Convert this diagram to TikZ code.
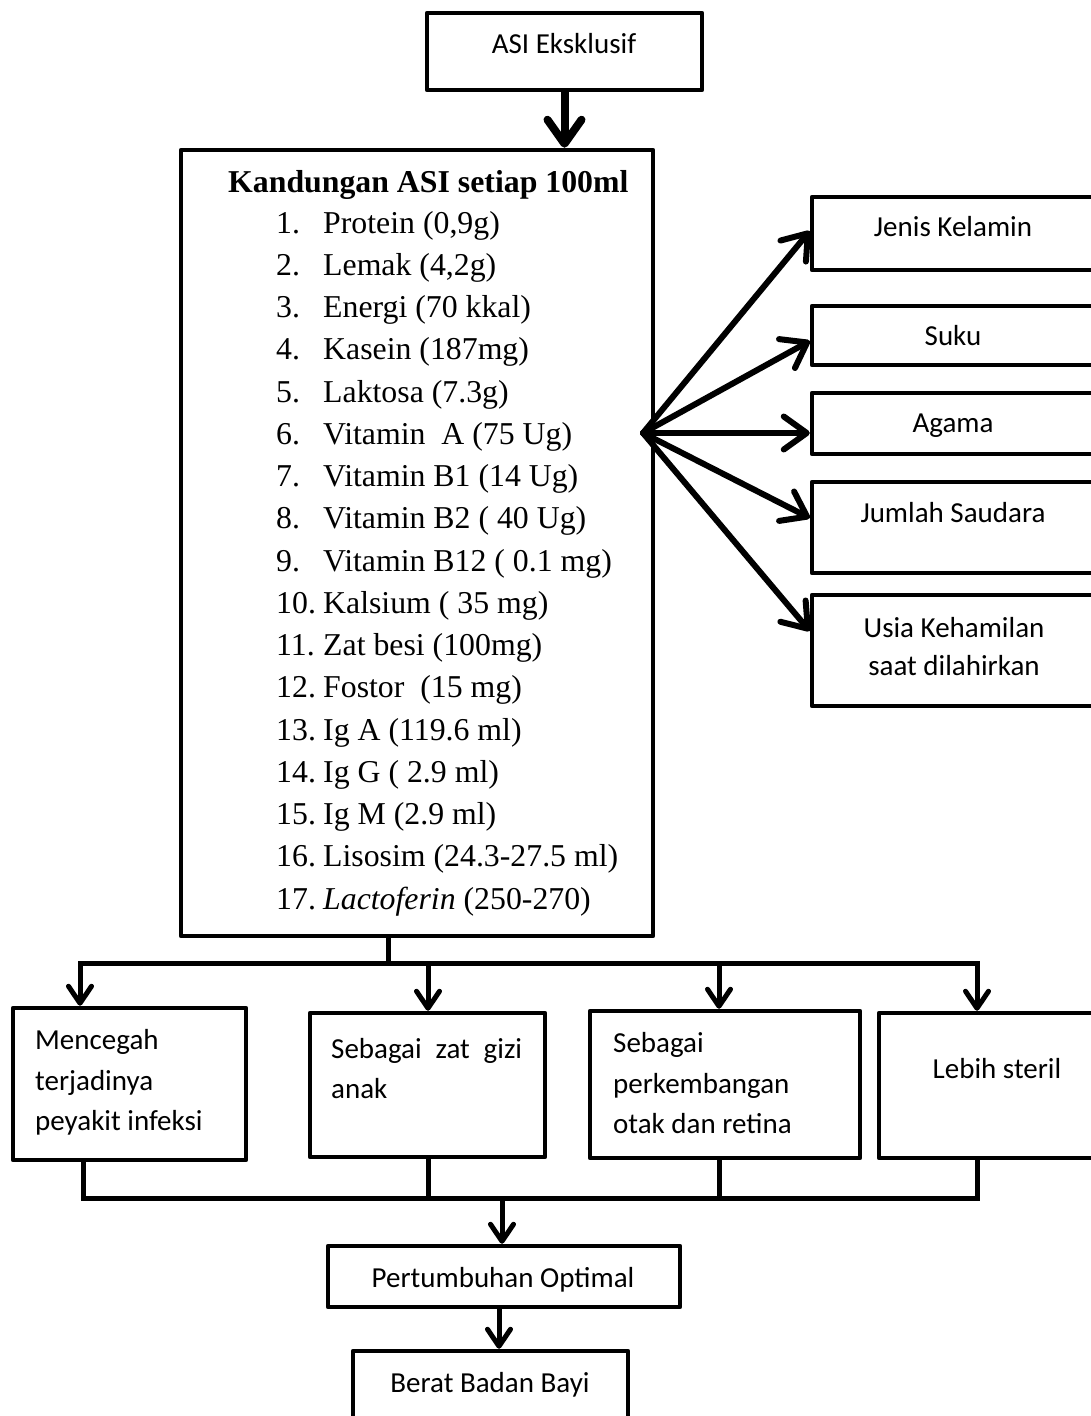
\documentclass[tikz,border=0pt]{standalone}
\usepackage{fontspec}
\setmainfont{Liberation Serif}
\newfontfamily\calib{Carlito}
\usetikzlibrary{arrows.meta,fit,calc}
\tikzset{
 box/.style={draw, line width=4.5pt, inner sep=0pt, line join=round},
 ser/.style={font=\fontsize{31.8}{38}\selectfont, inner sep=0pt},
 sans/.style={font=\calib\fontsize{29}{35}\selectfont, inner sep=0pt},
 conn/.style={line width=5pt},
 bigarr/.style={line width=8pt, -{Straight Barb[length=24pt,width=34pt,round]}},
 fanarr/.style={line width=6pt, line cap=round, -{Straight Barb[length=23pt,width=33pt,round]}},
 smallarr/.style={line width=5pt, -{Straight Barb[length=17pt,width=23pt,round]}},
}
\newcommand\LItem[3]{%
 \node[ser, anchor=base west] (num#1) at (276,{233+(#1-1)*42.25}) {#2};
 \node[ser, anchor=base west] (item#1) at (323,{233+(#1-1)*42.25}) {#3};}
\begin{document}
\begin{tikzpicture}[x=1pt,y=-1pt]
\useasboundingbox (0,0) rectangle (1091,1416);
% top
\node[box, fit={(427,13) (702,90)}] (asi) {};
\node[sans, anchor=base] (asit) at (564,53) {ASI Eksklusif};
\node[box, fit={(181,150) (653,936)}] (main) {};
\node[ser, anchor=base west, font=\fontsize{31.8}{38}\selectfont\bfseries] (title) at (228,192) {Kandungan ASI setiap 100ml};
\LItem{1}{1.}{Protein (0,9g)}
\LItem{2}{2.}{Lemak (4,2g)}
\LItem{3}{3.}{Energi (70 kkal)}
\LItem{4}{4.}{Kasein (187mg)}
\LItem{5}{5.}{Laktosa (7.3g)}
\LItem{6}{6.}{Vitamin\ \ A (75 Ug)}
\LItem{7}{7.}{Vitamin B1 (14 Ug)}
\LItem{8}{8.}{Vitamin B2 ( 40 Ug)}
\LItem{9}{9.}{Vitamin B12 ( 0.1 mg)}
\LItem{10}{10.}{Kalsium ( 35 mg)}
\LItem{11}{11.}{Zat besi (100mg)}
\LItem{12}{12.}{Fostor\ \ (15 mg)}
\LItem{13}{13.}{Ig A (119.6 ml)}
\LItem{14}{14.}{Ig G ( 2.9 ml)}
\LItem{15}{15.}{Ig M (2.9 ml)}
\LItem{16}{16.}{Lisosim (24.3-27.5 ml)}
\LItem{17}{17.}{\textit{Lactoferin} (250-270)}
% right boxes
\node[box, fit={(812,197) (1096,270)}] (jenis) {};
\node[box, fit={(812,306) (1096,365)}] (suku) {};
\node[box, fit={(812,393) (1096,454)}] (agama) {};
\node[box, fit={(812,482) (1096,573)}] (jumlah) {};
\node[box, fit={(812,595) (1096,706)}] (usia) {};
\node[sans, anchor=base] (jenist) at (953,236) {Jenis Kelamin};
\node[sans, anchor=base] (sukut) at (953,345) {Suku};
\node[sans, anchor=base] (agamat) at (953,432) {Agama};
\node[sans, anchor=base] (jumlaht) at (953,522) {Jumlah Saudara};
\node[sans, anchor=base] (usiat1) at (954,637) {Usia Kehamilan};
\node[sans, anchor=base] (usiat2) at (954,675) {saat dilahirkan};
% bottom boxes
\node[box, fit={(13,1008) (246,1160)}] (c1) {};
\node[box, fit={(310,1013) (545,1157)}] (c2) {};
\node[box, fit={(590,1011) (860,1158)}] (c3) {};
\node[box, fit={(879,1013) (1096,1158)}] (c4) {};
\node[sans, anchor=base west] (c1a) at (35,1049) {Mencegah};
\node[sans, anchor=base west] (c1b) at (35,1090) {terjadinya};
\node[sans, anchor=base west] (c1c) at (35,1130) {peyakit infeksi};
\node[sans, anchor=base west] (c2a) at (331,1058) {\makebox[191pt][s]{Sebagai zat gizi}};
\node[sans, anchor=base west] (c2b) at (331,1098) {anak};
\node[sans, anchor=base west] (c3a) at (613,1052) {Sebagai};
\node[sans, anchor=base west] (c3b) at (613,1093) {perkembangan};
\node[sans, anchor=base west] (c3c) at (613,1133) {otak dan retina};
\node[sans, anchor=base] (c4a) at (997,1078) {Lebih steril};
\node[box, fit={(328,1246) (680,1307)}] (pert) {};
\node[sans, anchor=base] (pertt) at (503,1287) {Pertumbuhan Optimal};
\node[box, fit={(353,1351) (628,1440)}] (berat) {};
\node[sans, anchor=base] (beratt) at (490,1392) {Berat Badan Bayi};
% connectors
\draw[bigarr] (asi.south) -- (asi.south |- main.north);
\coordinate (fan) at (643,433);
\draw[fanarr] (fan) -- ([yshift=2.5pt]jenis.west);
\draw[fanarr] (fan) -- ([yshift=-5.5pt]suku.west);
\draw[fanarr] (fan) -- ([yshift=-9.5pt]agama.west);
\draw[fanarr] (fan) -- ([yshift=9.5pt]jumlah.west);
\draw[fanarr] (fan) -- ([yshift=19.5pt]usia.west);
\coordinate (b0) at (388,963);
\coordinate (bl) at (80,963);
\coordinate (b2) at (428,963);
\coordinate (b3) at (719,963);
\coordinate (br) at (977,963);
\draw[conn] (main.south -| b0) -- (b0);
\draw[conn, line cap=rect] (bl) -- (br);
\draw[smallarr] (bl) -- (bl |- c1.north);
\draw[smallarr] (b2) -- (b2 |- c2.north);
\draw[smallarr] (b3) -- (b3 |- c3.north);
\draw[smallarr] (br) -- (br |- c4.north);
\coordinate (s1) at (83,1198);
\coordinate (s2) at (428,1198);
\coordinate (s3) at (719,1198);
\coordinate (s4) at (977,1198);
\coordinate (m2) at (502,1198);
\coordinate (m3) at (499,1330);
\draw[conn] (c1.south -| s1) -- (s1);
\draw[conn] (c2.south -| s2) -- (s2);
\draw[conn] (c3.south -| s3) -- (s3);
\draw[conn] (c4.south -| s4) -- (s4);
\draw[conn, line cap=rect] (s1) -- (s4);
\draw[smallarr] (m2) -- (m2 |- pert.north);
\draw[smallarr] (pert.south -| m3) -- (berat.north -| m3);
\end{tikzpicture}
\end{document}
